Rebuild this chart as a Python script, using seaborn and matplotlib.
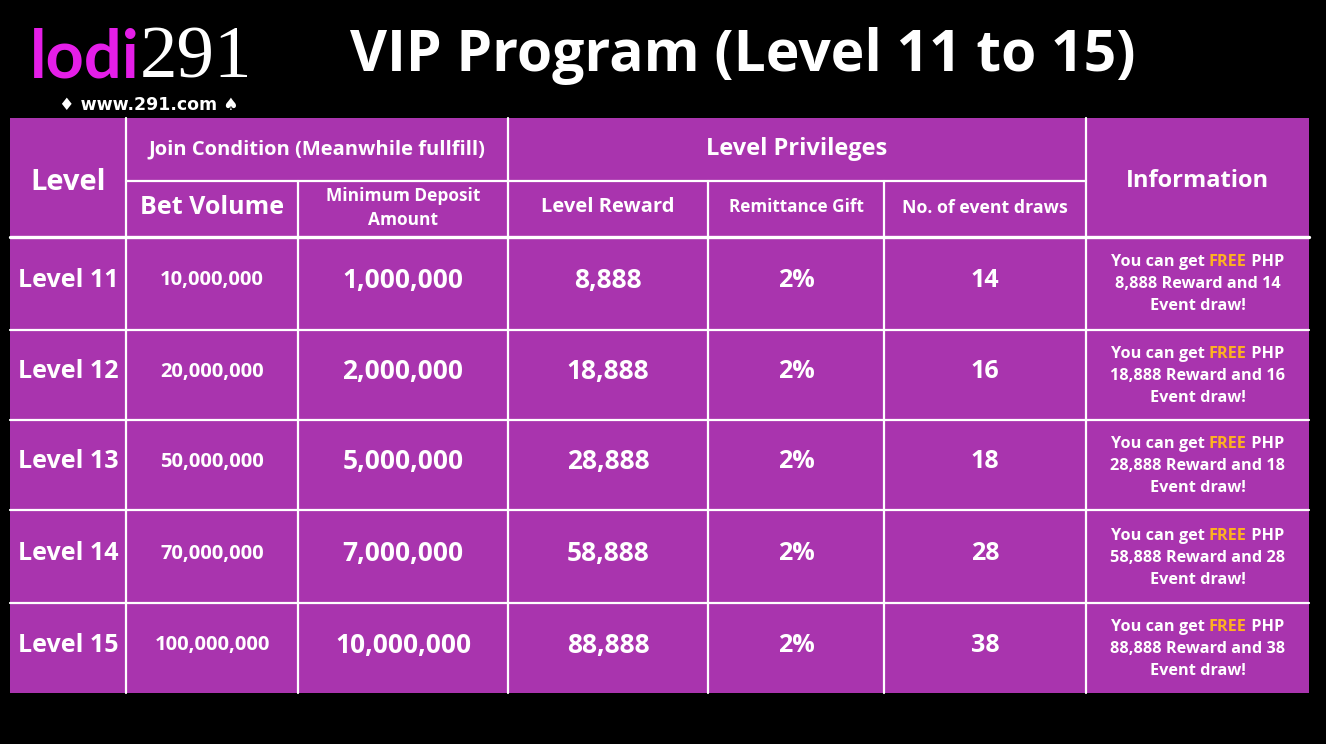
import matplotlib
matplotlib.use("Agg")
import matplotlib.pyplot as plt
from matplotlib.patches import Rectangle
import seaborn as sns

# Tabellendaten
levels = ["Level 11", "Level 12", "Level 13", "Level 14", "Level 15"]
bet_volume = ["10,000,000", "20,000,000", "50,000,000", "70,000,000", "100,000,000"]
min_deposit = ["1,000,000", "2,000,000", "5,000,000", "7,000,000", "10,000,000"]
level_reward = ["8,888", "18,888", "28,888", "58,888", "88,888"]
remittance = ["2%", "2%", "2%", "2%", "2%"]
event_draws = ["14", "16", "18", "28", "38"]

title = "VIP Program (Level 11 to 15)"

sns.set_theme(style="white")
plt.rcParams["font.family"] = ["Open Sans", "DejaVu Sans"]

W, H = 1326, 744
fig = plt.figure(figsize=(W / 100, H / 100), dpi=100, facecolor="black")
ax = fig.add_axes([0, 0, 1, 1])
ax.set_xlim(0, W)
ax.set_ylim(H, 0)
ax.axis("off")
ax.set_facecolor("black")

purple = "#a934ae"
orange = "#ffb21f"
white = "white"

# Raster (Pixelkoordinaten)
x_edges = [10, 126, 298, 508, 708, 884, 1086, 1309]
y_top, y_mid, y_head = 118, 181, 237
y_rows = [237, 330, 420, 510, 603, 693]

ax.add_patch(Rectangle((x_edges[0], y_top), x_edges[-1] - x_edges[0], y_rows[-1] - y_top,
                       facecolor=purple, edgecolor="none", zorder=1))

lw = 1.6
# vertikale Linien
for x in x_edges[1:-1]:
    if x in (298, 708, 884):
        ax.plot([x, x], [y_mid, y_rows[-1]], color=white, lw=lw, zorder=2)
    else:
        ax.plot([x, x], [y_top, y_rows[-1]], color=white, lw=lw, zorder=2)
# horizontale Linien
ax.plot([x_edges[1], x_edges[6]], [y_mid, y_mid], color=white, lw=lw, zorder=2)
ax.plot([x_edges[0], x_edges[-1]], [y_head, y_head], color=white, lw=2.4, zorder=2)
for y in y_rows[1:-1]:
    ax.plot([x_edges[0], x_edges[-1]], [y, y], color=white, lw=lw, zorder=2)


def cx(i):
    return (x_edges[i] + x_edges[i + 1]) / 2


def txt(x, y, s, size, weight="bold", color=white, **kw):
    return ax.text(x, y, s, fontsize=size, fontweight=weight, color=color,
                   ha="center", va="center", zorder=3, **kw)


# Kopfzeile
txt(cx(0), 182, "Level", 21)
txt((x_edges[1] + x_edges[3]) / 2, 149, "Join Condition (Meanwhile fullfill)", 14.5)
txt(cx(1), 208, "Bet Volume", 18)
txt(cx(2), 208, "Minimum Deposit\nAmount", 12.5, linespacing=1.45)
txt((x_edges[3] + x_edges[6]) / 2, 149, "Level Privileges", 17)
txt(cx(3), 207, "Level Reward", 14.5)
txt(cx(4), 207, "Remittance Gift", 12.3)
txt(cx(5), 208, "No. of event draws", 12.8)
txt(cx(6), 181, "Information", 17)

# Titel und Logo
ax.text(743, 56, title, fontsize=41, fontweight="bold", color=white,
        ha="center", va="center", zorder=3)
ax.text(30, 78, "lodi", fontsize=48, fontweight="bold", color="#e51ee8",
        ha="left", va="baseline", family=["Lato", "DejaVu Sans"])
ax.text(140, 77, "291", fontsize=54, color=white, ha="left", va="baseline",
        family=["Liberation Serif", "DejaVu Serif"])
ax.text(149, 105, "\u2666 www.291.com \u2660", fontsize=12.5, fontweight="bold", color=white,
        ha="center", va="center", family=["DejaVu Sans"])

fig.canvas.draw()
renderer = fig.canvas.get_renderer()


def colored_line(xc, y, parts, size):
    # Textteile nebeneinander, zentriert um xc
    objs = []
    for s, c in parts:
        objs.append(ax.text(0, y, s, fontsize=size, fontweight="bold", color=c,
                            ha="left", va="center", zorder=3))
    widths = [o.get_window_extent(renderer).width for o in objs]
    x = xc - sum(widths) / 2
    for o, w in zip(objs, widths):
        o.set_x(x)
        x += w


# Datenzeilen
for i in range(len(levels)):
    yc = (y_rows[i] + y_rows[i + 1]) / 2 - 3
    txt(cx(0), yc, levels[i], 18)
    txt(cx(1), yc, bet_volume[i], 14.5)
    txt(cx(2), yc, min_deposit[i], 19)
    txt(cx(3), yc, level_reward[i], 19)
    txt(cx(4), yc, remittance[i], 18)
    txt(cx(5), yc, event_draws[i], 18)
    yi = yc + 4
    colored_line(cx(6), yi - 22, [("You can get ", white), ("FREE", orange), (" PHP", white)], 11.7)
    txt(cx(6), yi, f"{level_reward[i]} Reward and {event_draws[i]}", 11.7)
    txt(cx(6), yi + 22, "Event draw!", 11.7)

fig.savefig("out.png", dpi=100, facecolor="black")
